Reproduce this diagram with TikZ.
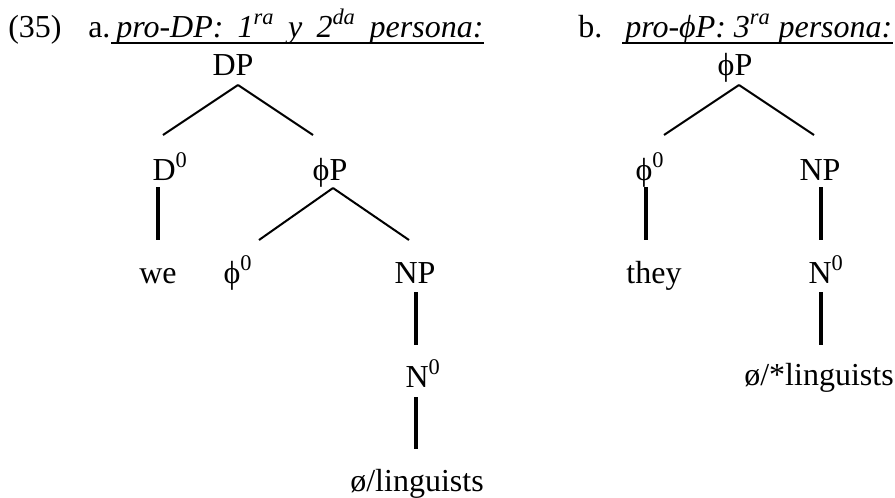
\documentclass[tikz,border=0pt]{standalone}
\usepackage{fontspec}
\setmainfont{Liberation Serif}
\usetikzlibrary{calc}

\begin{document}
\begin{tikzpicture}[x=0.75pt, y=-0.75pt,
    lbl/.style={anchor=base, inner sep=0pt, font=\fontsize{24}{28}\selectfont},
    hd/.style={anchor=base west, inner sep=0pt, font=\fontsize{24}{28}\selectfont},
    branch/.style={line width=1.5pt},
    stem/.style={line width=2.4pt},
    uline/.style={line width=1.6pt}]
    \useasboundingbox (0,0) rectangle (895,497);

    % example number and headings
    \node[hd] (num) at (8,37) {(35)};
    \node[hd] (a) at (88,37) {a.};
    \node[hd] (hda) at (116,37) {\itshape\spaceskip=0.44em pro-DP: 1\textsuperscript{ra} y 2\textsuperscript{da} persona:};
    \draw[uline] ($(hda.base west)+(-5,6)$) -- ($(hda.base east)+(0,6)$);
    \node[hd] (b) at (578,37) {b.};
    \node[hd] (hdb) at (625,37) {\itshape pro-ϕP: 3\textsuperscript{ra} persona:};
    \draw[uline] ($(hdb.base west)+(-3,6)$) -- ($(hdb.base east)+(0,6)$);

    % tree a
    \node[lbl] (dp) at (233,75) {DP};
    \node[lbl] (dzero) at (170,180) {D\textsuperscript{0}};
    \node[lbl] (phipa) at (330,180) {ϕP};
    \node[lbl] (we) at (158,283) {we};
    \node[lbl] (phizeroa) at (238,283) {ϕ\textsuperscript{0}};
    \node[lbl] (npa) at (415,283) {NP};
    \node[lbl] (nzeroa) at (423,387) {N\textsuperscript{0}};
    \node[lbl] (linga) at (417,491) {ø/linguists};

    \draw[branch] ($(dp.base)+(5,10)$) -- ($(dzero.base)+(-7,-45)$);
    \draw[branch] ($(dp.base)+(5,10)$) -- ($(phipa.base)+(-17,-45)$);
    \draw[stem] ($(dzero.base)+(-12,7)$) -- ($(we.base)+(0,-43)$);
    \draw[branch] ($(phipa.base)+(3,8)$) -- ($(phizeroa.base)+(21,-43)$);
    \draw[branch] ($(phipa.base)+(3,8)$) -- ($(npa.base)+(-6,-43)$);
    \draw[stem] ($(npa.base)+(1,9)$) -- ($(nzeroa.base)+(-7,-42)$);
    \draw[stem] ($(nzeroa.base)+(-7,10)$) -- ($(linga.base)+(-1,-42)$);

    % tree b
    \node[lbl] (phipb) at (735,75) {ϕP};
    \node[lbl] (phizerob) at (650,180) {ϕ\textsuperscript{0}};
    \node[lbl] (npb) at (820,180) {NP};
    \node[lbl] (they) at (654,283) {they};
    \node[lbl] (nzerob) at (826,283) {N\textsuperscript{0}};
    \node[lbl] (lingb) at (819,385) {ø/*linguists};

    \draw[branch] ($(phipb.base)+(4,10)$) -- ($(phizerob.base)+(14,-45)$);
    \draw[branch] ($(phipb.base)+(4,10)$) -- ($(npb.base)+(-6,-45)$);
    \draw[stem] ($(phizerob.base)+(-4,7)$) -- ($(they.base)+(-8,-43)$);
    \draw[stem] ($(npb.base)+(1,7)$) -- ($(nzerob.base)+(-5,-43)$);
    \draw[stem] ($(nzerob.base)+(-5,9)$) -- ($(lingb.base)+(2,-40)$);
  \end{tikzpicture}
\end{document}
